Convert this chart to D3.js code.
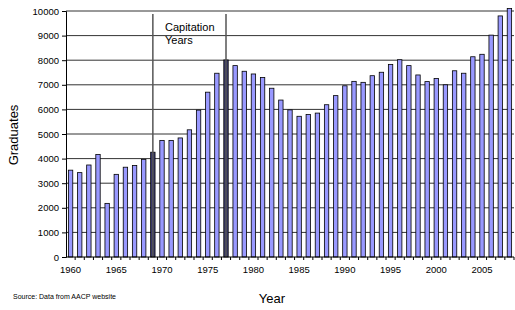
<!DOCTYPE html>
<html>
<head>
<meta charset="utf-8">
<script src="https://cdn.jsdelivr.net/npm/d3@7"></script>
<style>
  body { margin: 0; background: #fff; }
  text { font-family: "Liberation Sans", Arial, sans-serif; }
</style>
</head>
<body>
<div id="chart"></div>
<script>
// graduates per year
const years = d3.range(1960, 2009);
const graduates = [
  3530, 3430, 3740, 4170, 2180, 3360, 3650, 3720, 3970, 4260,
  4740, 4740, 4840, 5170, 5970, 6700, 7470, 8010, 7780, 7550,
  7440, 7300, 6860, 6380, 5980, 5720, 5790, 5850, 6190, 6560,
  6960, 7140, 7100, 7370, 7510, 7830, 8020, 7780, 7400, 7130,
  7260, 7000, 7570, 7470, 8140, 8240, 9020, 9800, 10100
];
const yTicks = d3.range(0, 10001, 1000);
const xLabels = [1960, 1965, 1970, 1975, 1980, 1985, 1990, 1995, 2000, 2005];
const capitationYears = [1969, 1977];

const width = 515, height = 310;
const margin = { top: 11, right: 1, bottom: 53, left: 66 };

const svg = d3.select("#chart").append("svg")
    .attr("width", width)
    .attr("height", height);

const x = d3.scaleBand()
    .domain(years)
    .range([margin.left, width - margin.right])
    .paddingInner(0.52)
    .paddingOuter(0.26);

const y = d3.scaleLinear()
    .domain([0, 10000])
    .range([height - margin.bottom, margin.top]);

// gridlines
svg.append("g")
    .selectAll("line")
    .data(yTicks.slice(1))
    .enter().append("line")
    .attr("x1", margin.left)
    .attr("x2", width - margin.right)
    .attr("y1", d => y(d))
    .attr("y2", d => y(d))
    .attr("stroke", "#333")
    .attr("stroke-width", 1);

// bars
svg.append("g")
    .selectAll("rect")
    .data(years)
    .enter().append("rect")
    .attr("x", d => x(d))
    .attr("y", (d, i) => y(graduates[i]))
    .attr("width", x.bandwidth())
    .attr("height", (d, i) => y(0) - y(graduates[i]))
    .attr("fill", d => capitationYears.includes(d) ? "#3b3b6e" : "#9999ff")
    .attr("stroke", "#000")
    .attr("stroke-width", 0.8);

// capitation lines
svg.append("g")
    .selectAll("line")
    .data(capitationYears)
    .enter().append("line")
    .attr("x1", d => x(d) + x.bandwidth() / 2)
    .attr("x2", d => x(d) + x.bandwidth() / 2)
    .attr("y1", 14)
    .attr("y2", y(0))
    .attr("stroke", "#555")
    .attr("stroke-width", 1.5);

svg.append("text")
    .attr("font-size", 11)
    .attr("fill", "#000")
    .selectAll("tspan")
    .data(["Capitation", "Years"])
    .enter().append("tspan")
    .attr("x", 165)
    .attr("y", (d, i) => 31 + i * 13)
    .text(d => d);

// y axis
const yAxis = svg.append("g")
    .attr("transform", `translate(${margin.left},0)`)
    .call(d3.axisLeft(y).tickValues(yTicks).tickSize(4).tickPadding(3).tickFormat(d3.format("d")));
yAxis.select(".domain").attr("stroke", "#000");
yAxis.selectAll("text").attr("font-size", 9.5).attr("fill", "#000").style("font-family", "Liberation Sans, Arial, sans-serif");

// x axis: ticks between bars, labels every 5 years
const xAxis = svg.append("g")
    .attr("transform", `translate(0,${y(0)})`);
xAxis.append("line")
    .attr("x1", margin.left)
    .attr("x2", width - margin.right)
    .attr("stroke", "#000");
xAxis.selectAll(".xtick")
    .data(years)
    .enter().append("line")
    .attr("class", "xtick")
    .attr("x1", d => x(d) + x.bandwidth() / 2 + x.step() / 2)
    .attr("x2", d => x(d) + x.bandwidth() / 2 + x.step() / 2)
    .attr("y1", 0)
    .attr("y2", 3)
    .attr("stroke", "#000");
xAxis.selectAll("text")
    .data(xLabels)
    .enter().append("text")
    .attr("x", d => x(d) + x.bandwidth() / 2)
    .attr("y", 16)
    .attr("text-anchor", "middle")
    .attr("font-size", 9.5)
    .attr("fill", "#000")
    .text(d => d);

// titles
svg.append("text")
    .attr("transform", "translate(18,135) rotate(-90)")
    .attr("text-anchor", "middle")
    .attr("font-size", 13)
    .text("Graduates");

svg.append("text")
    .attr("x", 272)
    .attr("y", 303)
    .attr("text-anchor", "middle")
    .attr("font-size", 13)
    .text("Year");

svg.append("text")
    .attr("x", 13)
    .attr("y", 299)
    .attr("font-size", 7)
    .text("Source: Data from AACP website");
</script>
</body>
</html>
